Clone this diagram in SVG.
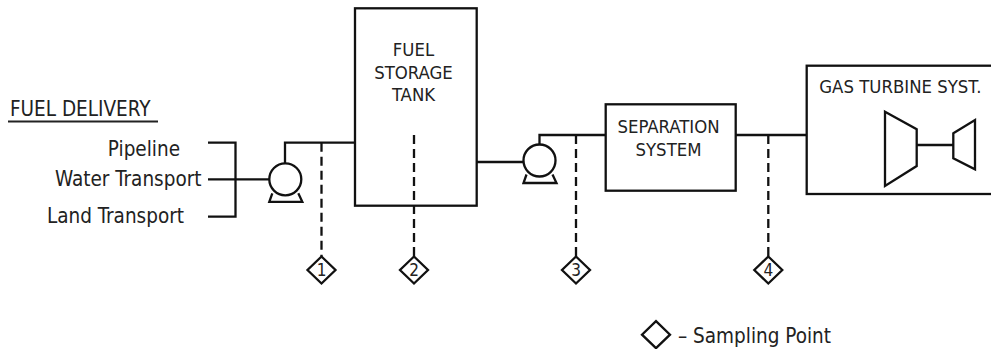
<svg xmlns="http://www.w3.org/2000/svg" width="991" height="349" viewBox="0 0 991 349">
<style>
.ln{fill:none;stroke:#111;stroke-width:2.3;stroke-linejoin:miter}
.dash{fill:none;stroke:#111;stroke-width:2.3;stroke-dasharray:9,5}
.box{fill:#fff;stroke:#111;stroke-width:2.3}
.t{font-family:"DejaVu Sans Condensed","DejaVu Sans",sans-serif;font-stretch:condensed;fill:#222}
.lbl{font-size:20.5px}
.bx{font-size:18.4px}
.num{font-family:"DejaVu Sans Condensed","DejaVu Sans",sans-serif;font-stretch:condensed;font-size:17px;fill:#222;text-anchor:middle}
.dia{fill:#fff;stroke:#111;stroke-width:2.3}
</style>
<defs>
<g id="pump">
<path class="ln" d="M-13,14 L-16,22.5 L17,22.5 L13,14"/>
<circle r="16" fill="#fff" stroke="#111" stroke-width="2.3"/>
</g>
<path id="diamond" class="dia" d="M0,-13.5 L14,0 L0,13.5 L-14,0 Z"/>
</defs>

<g id="connectors">
<path class="ln" d="M208,142.7 H235.5 V216.7 H208"/>
<path class="ln" d="M208,179.3 H285"/>
<path class="ln" d="M285,163 V142.7 H356"/>
<path class="ln" d="M476.7,162 H539.5"/>
<path class="ln" d="M539.5,144.5 V135 H605.7"/>
<path class="ln" d="M735.7,135 H806.7"/>
<path class="dash" d="M321.5,142.7 V256.5"/>
<path class="dash" d="M414,135 V256.5"/>
<path class="dash" d="M576,135 V256.5"/>
<path class="dash" d="M768.3,135 V256.5"/>
</g>

<g id="fuel-delivery">
<text class="t lbl" x="10" y="116">FUEL DELIVERY</text>
<line x1="8" y1="121.5" x2="158" y2="121.5" stroke="#222" stroke-width="2"/>
<text class="t lbl" x="180" y="156" text-anchor="end">Pipeline</text>
<text class="t lbl" x="201.5" y="186" text-anchor="end">Water Transport</text>
<text class="t lbl" x="184" y="223" text-anchor="end">Land Transport</text>
</g>

<g id="pump1"><use href="#pump" x="285.3" y="179.3"/></g>

<g id="storage-tank">
<rect class="box" x="355" y="8.3" width="121.7" height="197.4" fill="none"/>
<path class="dash" d="M414,135 V205"/>
<text class="t bx" x="413.5" y="56" text-anchor="middle">FUEL</text>
<text class="t bx" x="413.5" y="79" text-anchor="middle">STORAGE</text>
<text class="t bx" x="413.5" y="100.5" text-anchor="middle">TANK</text>
</g>

<g id="pump2"><use href="#pump" x="539.5" y="160.5"/></g>

<g id="separation-system">
<rect class="box" x="605.7" y="104.3" width="130" height="86.4"/>
<text class="t bx" x="668.5" y="133" text-anchor="middle">SEPARATION</text>
<text class="t bx" x="668.5" y="156" text-anchor="middle">SYSTEM</text>
</g>

<g id="gas-turbine">
<rect class="box" x="806.7" y="65.7" width="200" height="128.3"/>
<text class="t bx" x="819.3" y="92.5">GAS TURBINE SYST.</text>
<path class="ln" d="M885,111.7 L916.7,129.3 L916.7,166 L885,186 Z"/>
<path class="ln" d="M916.7,145 H953.3"/>
<path class="ln" d="M953.3,133.3 L975,120 L975,169.3 L953.3,158.3 Z"/>
</g>

<g id="sp1"><use href="#diamond" x="321.5" y="270"/><text class="num" x="321.5" y="276">1</text></g>
<g id="sp2"><use href="#diamond" x="414" y="270"/><text class="num" x="414" y="276">2</text></g>
<g id="sp3"><use href="#diamond" x="576" y="270"/><text class="num" x="576" y="276">3</text></g>
<g id="sp4"><use href="#diamond" x="768.3" y="270"/><text class="num" x="768.3" y="276">4</text></g>

<g id="legend">
<use href="#diamond" x="656" y="334.7"/>
<text class="t lbl" x="678" y="343">– Sampling Point</text>
</g>
</svg>
